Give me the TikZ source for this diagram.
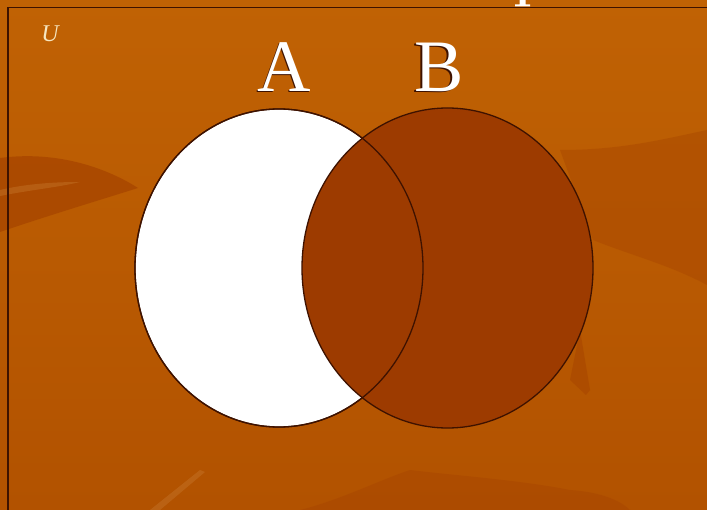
\documentclass[tikz,border=0pt]{standalone}
\usepackage{fontspec}
\setmainfont{Liberation Serif}
\definecolor{bgtop}{HTML}{C06204}
\definecolor{bgbot}{HTML}{B25200}
\definecolor{bgdark}{HTML}{A84600}
\definecolor{bfill}{HTML}{9D3B00}
\definecolor{edge}{HTML}{3E1200}
\definecolor{ucol}{HTML}{F6E6C0}
\tikzset{
  setcircle/.style={ellipse, draw=edge, line width=1.3pt, inner sep=0pt},
  biglabel/.style={font=\fontsize{74}{80}\selectfont, inner sep=0pt, anchor=base},
}
\usetikzlibrary{shapes.geometric}
\begin{document}
\begin{tikzpicture}[x=1pt,y=-1pt]
\useasboundingbox (0,0) rectangle (707,510);
\begin{scope}
\clip (0,0) rectangle (707,510);
% background
\shade[top color=bgtop, bottom color=bgbot] (0,0) rectangle (707,510);
% texture
\fill[bgdark, opacity=0.8] (0,158) .. controls (60,150) and (110,170) .. (138,188) .. controls (100,200) and (50,215) .. (0,232) -- cycle;
\fill[bgtop!80!white, opacity=0.35] (0,190) .. controls (30,183) and (60,182) .. (80,182) .. controls (60,187) and (30,190) .. (0,196) -- cycle;
\fill[bgdark, opacity=0.45] (593,240) .. controls (630,255) and (670,265) .. (707,285) -- (707,130) .. controls (660,140) and (620,150) .. (560,150) -- cycle;
\fill[bgdark, opacity=0.6] (580,330) -- (590,390) -- (586,395) -- (570,380) -- cycle;
\fill[bgdark, opacity=0.5] (300,510) .. controls (340,500) and (380,480) .. (410,470) .. controls (450,475) and (520,480) .. (570,490) .. controls (600,492) and (620,500) .. (630,510) -- cycle;
\fill[bgtop!70!white, opacity=0.25] (150,510) -- (200,470) -- (205,472) -- (160,510) -- cycle;
% fragment of a cut-off title letter
\fill[white] (519.5,0) rectangle (525.5,5) (515,4.5) rectangle (530,6.5);
\end{scope}
% frame
\draw[edge, line width=1.3pt] (8,520) -- (8,7.5) -- (720,7.5);
% universe label
\node[ucol, font=\fontsize{24}{26}\selectfont\itshape, inner sep=0pt] (U) at (50,34) {U};
% sets
\node[setcircle, fill=white, minimum width=288pt, minimum height=318pt] (A) at (279,268) {};
\node[setcircle, fill=bfill, minimum width=291pt, minimum height=320pt] (B) at (447.5,268) {};
\draw[edge, line width=1.3pt] (A.center) ellipse[x radius=144pt, y radius=159pt];
% labels
\node[biglabel, edge] (Ash) at (283,92.5) {A};
\node[biglabel, white] (Alab) at (284.5,91.5) {A};
\node[biglabel, edge] (Bsh) at (437.5,92.5) {B};
\node[biglabel, white] (Blab) at (439,91.5) {B};
\end{tikzpicture}
\end{document}
